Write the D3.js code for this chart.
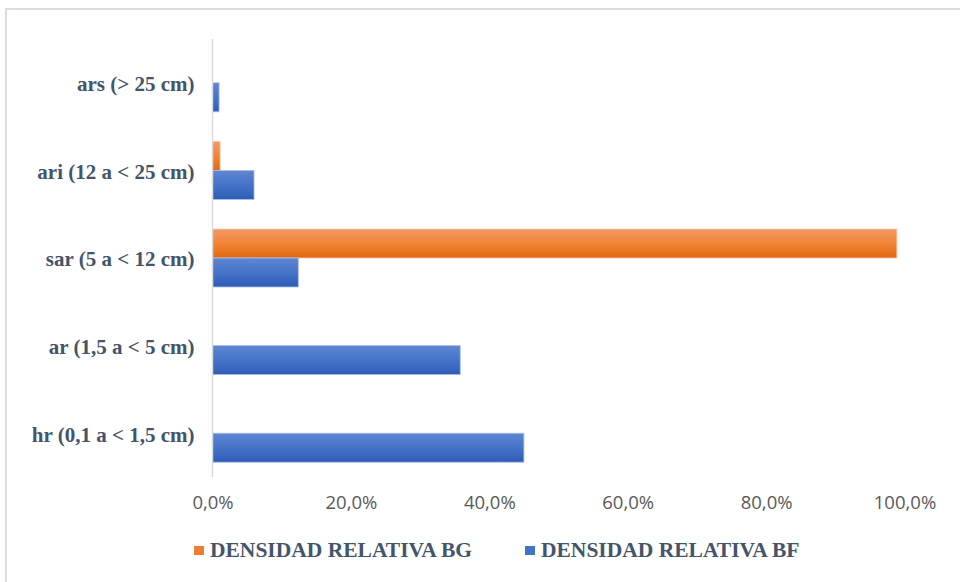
<!DOCTYPE html>
<html>
<head>
<meta charset="utf-8">
<script src="https://cdn.jsdelivr.net/npm/d3@7/dist/d3.min.js"></script>
<style>
  body { margin: 0; background: #fff; }
  .serif { font-family: 'Liberation Serif', 'DejaVu Serif', serif; }
  .sans { font-family: 'Open Sans', sans-serif; }
</style>
</head>
<body>
<svg id="mainsvg" width="960" height="582"></svg>
<script>
const categories = ['ars (> 25 cm)', 'ari (12 a < 25 cm)', 'sar (5 a < 12 cm)', 'ar (1,5 a < 5 cm)', 'hr (0,1 a < 1,5 cm)'];
const seriesNames = ['DENSIDAD RELATIVA BG', 'DENSIDAD RELATIVA BF'];
const valuesBG = [0, 1.1, 98.9, 0, 0];
const valuesBF = [0.95, 6.0, 12.4, 35.8, 45.0];
const tickValues = [0, 20, 40, 60, 80, 100];

const svg = d3.select('#mainsvg');
const margin = { top: 39, left: 212.5, bottom: 477 };

// chart frame
svg.append('rect')
    .attr('x', 6).attr('y', 9)
    .attr('width', 1000).attr('height', 1000)
    .attr('fill', 'none')
    .attr('stroke', '#D9DCE3')
    .attr('stroke-width', 2);

// gradients
const defs = svg.append('defs');
const grads = [
    { id: 'gOrange', top: '#F39A66', mid: '#F18535', bot: '#E2670F' },
    { id: 'gBlue', top: '#5F86D2', mid: '#4573C8', bot: '#2E5DB7' }
];
grads.forEach(g => {
    const lg = defs.append('linearGradient').attr('id', g.id)
        .attr('x1', 0).attr('y1', 0).attr('x2', 0).attr('y2', 1);
    lg.append('stop').attr('offset', '0%').attr('stop-color', g.top);
    lg.append('stop').attr('offset', '50%').attr('stop-color', g.mid);
    lg.append('stop').attr('offset', '100%').attr('stop-color', g.bot);
});

const xScale = d3.scaleLinear()
    .domain([0, 100])
    .range([margin.left, 904.5]);

const yScale = d3.scaleBand()
    .domain(categories)
    .range([margin.top, margin.bottom])
    .paddingInner(0.338)
    .paddingOuter(0.169);

const ySub = d3.scaleBand()
    .domain(seriesNames)
    .range([0, yScale.bandwidth()]);

const fills = ['url(#gOrange)', 'url(#gBlue)'];
const edges = ['#F8C9A8', '#A9BEE8'];
const legendColors = ['#ED7D31', '#4472C4'];

// bars
[valuesBG, valuesBF].forEach((vals, si) => {
    svg.append('g').selectAll('rect')
        .data(vals.map((v, i) => ({ v, c: categories[i] })).filter(d => d.v > 0))
        .join('rect')
        .attr('x', xScale(0))
        .attr('y', d => yScale(d.c) + ySub(seriesNames[si]))
        .attr('width', d => xScale(d.v) - xScale(0))
        .attr('height', ySub.bandwidth())
        .attr('fill', fills[si])
        .attr('stroke', edges[si])
        .attr('stroke-width', 0.8);
});

// vertical axis line
svg.append('line')
    .attr('x1', xScale(0)).attr('x2', xScale(0))
    .attr('y1', margin.top).attr('y2', margin.bottom)
    .attr('stroke', '#D9D9D9')
    .attr('stroke-width', 1.5);

// category labels
const yAxis = d3.axisLeft(yScale).tickSize(0).tickPadding(18);
const yg = svg.append('g').attr('transform', `translate(${xScale(0)},0)`).call(yAxis);
yg.attr('font-family', null).attr('font-size', null);
yg.select('.domain').remove();
yg.selectAll('.tick text')
    .attr('class', 'serif')
    .attr('dy', '0.4em')
    .style('font-weight', 'bold')
    .style('font-size', '21px')
    .attr('fill', '#44546A');

// x axis labels
const xAxis = d3.axisBottom(xScale)
    .tickValues(tickValues)
    .tickSize(0)
    .tickPadding(0)
    .tickFormat(d => d.toFixed(1).replace('.', ',') + '%');
const xg = svg.append('g').attr('transform', 'translate(0,509)').call(xAxis);
xg.attr('font-family', null).attr('font-size', null);
xg.select('.domain').remove();
xg.selectAll('.tick text')
    .attr('class', 'sans')
    .attr('dy', 0)
    .style('font-size', '18.5px')
    .attr('fill', '#595959');

// legend
const legendX = [194, 525];
const legend = svg.append('g');
seriesNames.forEach((name, i) => {
    legend.append('rect')
        .attr('x', legendX[i]).attr('y', 546)
        .attr('width', 10).attr('height', 9)
        .attr('fill', legendColors[i]);
    legend.append('text')
        .attr('class', 'serif')
        .attr('x', legendX[i] + 16).attr('y', 557)
        .style('font-weight', 'bold')
        .style('font-size', '21.5px')
        .attr('fill', '#44546A')
        .text(name);
});
</script>
</body>
</html>
